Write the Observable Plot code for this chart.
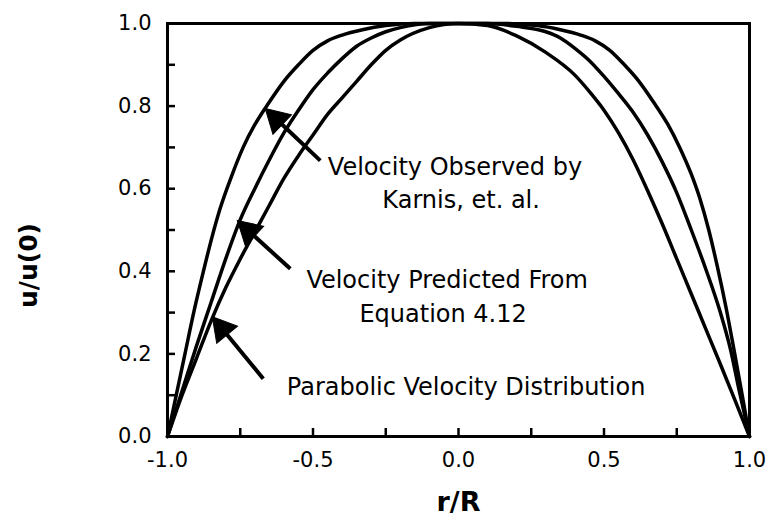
<!DOCTYPE html>
<html><head><meta charset="utf-8">
<script src="https://cdn.jsdelivr.net/npm/d3@7"></script>
<script src="https://cdn.jsdelivr.net/npm/@observablehq/plot@0.6"></script>
<style>body{margin:0;background:#fff}svg{display:block}</style>
</head><body><div id="chart"></div>
<script>
// Velocity observed by Karnis et al. (outer curve)
const karnisR = [-1, -0.97, -0.94, -0.91, -0.88, -0.85, -0.82, -0.78, -0.74, -0.70, -0.65, -0.60, -0.55, -0.50, -0.45, -0.40, -0.33, -0.25, -0.15, 0, 0.15, 0.27, 0.35, 0.42, 0.47, 0.52, 0.57, 0.62, 0.67, 0.72, 0.76, 0.80, 0.83, 0.86, 0.89, 0.92, 0.948, 0.975, 1];
const karnisU = [0, 0.10, 0.20, 0.30, 0.39, 0.475, 0.55, 0.63, 0.70, 0.755, 0.81, 0.86, 0.90, 0.935, 0.958, 0.972, 0.985, 0.995, 1.0, 1.0, 1.0, 0.995, 0.985, 0.972, 0.958, 0.935, 0.90, 0.86, 0.81, 0.755, 0.70, 0.635, 0.575, 0.50, 0.41, 0.31, 0.205, 0.10, 0];
// Velocity predicted from Equation 4.12 (middle curve)
const predR = [-1, -0.95, -0.90, -0.85, -0.80, -0.75, -0.70, -0.65, -0.60, -0.55, -0.50, -0.45, -0.40, -0.35, -0.30, -0.25, -0.20, -0.10, 0, 0.10, 0.20, 0.30, 0.35, 0.40, 0.45, 0.50, 0.55, 0.60, 0.65, 0.70, 0.75, 0.80, 0.85, 0.90, 0.935, 0.965, 1];
const predU = [0, 0.11, 0.22, 0.325, 0.43, 0.525, 0.60, 0.67, 0.735, 0.79, 0.84, 0.88, 0.915, 0.945, 0.965, 0.98, 0.99, 1.0, 1.0, 1.0, 0.993, 0.98, 0.965, 0.94, 0.91, 0.872, 0.83, 0.785, 0.73, 0.665, 0.59, 0.50, 0.405, 0.30, 0.21, 0.11, 0];
// Parabolic velocity distribution (inner curve)
const paraR = [-1, -0.95, -0.90, -0.85, -0.80, -0.75, -0.70, -0.65, -0.60, -0.55, -0.50, -0.45, -0.40, -0.35, -0.30, -0.25, -0.20, -0.10, 0, 0.10, 0.20, 0.30, 0.40, 0.45, 0.50, 0.55, 0.60, 0.65, 0.70, 0.75, 0.80, 0.85, 0.90, 0.95, 1];
const paraU = [0, 0.10, 0.19, 0.28, 0.36, 0.43, 0.495, 0.56, 0.625, 0.68, 0.73, 0.78, 0.82, 0.86, 0.90, 0.935, 0.96, 0.99, 1.0, 0.995, 0.97, 0.93, 0.875, 0.835, 0.79, 0.735, 0.67, 0.595, 0.515, 0.43, 0.345, 0.26, 0.175, 0.088, 0];

// Annotations
const labelText = ["Velocity Observed by", "Karnis, et. al.", "Velocity Predicted From", "Equation 4.12", "Parabolic Velocity Distribution"];
const labelR = [-0.012, 0.009, -0.039, -0.053, 0.026];
const labelU = [0.651, 0.571, 0.377, 0.295, 0.118];
const arrowTipR = [-0.664, -0.76, -0.846];
const arrowTipU = [0.794, 0.523, 0.29];
const arrowTailR = [-0.475, -0.578, -0.671];
const arrowTailU = [0.668, 0.406, 0.14];

// Ticks
const yLabelTicks = [0, 0.2, 0.4, 0.6, 0.8, 1.0];
const yMinorTicks = [0.1, 0.2, 0.3, 0.4, 0.5, 0.6, 0.7, 0.8, 0.9];
const xLabelTicks = [-1, -0.5, 0, 0.5, 1];
const xMinorTicks = [-0.75, -0.5, -0.25, 0, 0.25, 0.5, 0.75];

const W = 770, H = 529, mL = 167, mR = 21, mT = 23, mB = 93;
const kx = (W - mL - mR) / 2, ky = (H - mT - mB);

const series = [
  {name: "karnis", r: karnisR, u: karnisU},
  {name: "pred", r: predR, u: predU},
  {name: "para", r: paraR, u: paraU}
];
const curveData = series.flatMap(s => s.r.map((r, i) => ({series: s.name, r, u: s.u[i]})));

const headR = 10;
const headOff = 2 * Math.sqrt(headR * headR * Math.PI / (3 * Math.sqrt(3)));
const arrows = arrowTipR.map((tr, i) => {
  const dxp = (tr - arrowTailR[i]) * kx;
  const dyp = -(arrowTipU[i] - arrowTailU[i]) * ky;
  const len = Math.hypot(dxp, dyp);
  const ux = dxp / len, uy = dyp / len;
  return {
    tailR: arrowTailR[i], tailU: arrowTailU[i],
    cR: tr - ux * headOff / kx,
    cU: arrowTipU[i] + uy * headOff / ky,
    rot: Math.atan2(ux, -uy) * 180 / Math.PI
  };
});
const labels = labelText.map((t, i) => ({t, r: labelR[i], u: labelU[i]}));

const chart = Plot.plot({
  width: W, height: H,
  marginLeft: mL, marginRight: mR, marginTop: mT, marginBottom: mB,
  style: {fontFamily: "DejaVu Sans", background: "#fff", color: "#000"},
  x: {domain: [-1, 1]},
  y: {domain: [0, 1]},
  marks: [
    Plot.axisY(yMinorTicks, {tickSize: -8, strokeWidth: 2.5, text: null, label: null}),
    Plot.axisY(yLabelTicks, {tickSize: 0, tickPadding: 16, tickFormat: d => d.toFixed(1), fontSize: 21, label: null}),
    Plot.axisX(xMinorTicks, {tickSize: -8, strokeWidth: 2.5, text: null, label: null}),
    Plot.axisX(xLabelTicks, {tickSize: 0, tickPadding: 16, tickFormat: d => d.toFixed(1), fontSize: 21, label: null}),
    Plot.frame({stroke: "#000", strokeWidth: 3}),
    Plot.line(curveData, {x: "r", y: "u", z: "series", stroke: "#000", strokeWidth: 3.5, curve: "monotone-x"}),
    Plot.link(arrows, {x1: "tailR", y1: "tailU", x2: "cR", y2: "cU", stroke: "#000", strokeWidth: 4}),
    Plot.dot(arrows, {x: "cR", y: "cU", symbol: "triangle", r: headR, fill: "#000", stroke: "#000", strokeWidth: 1, rotate: "rot"}),
    Plot.text(labels, {x: "r", y: "u", text: "t", fontSize: 24, fill: "#000", textAnchor: "middle"}),
    Plot.text(["u/u(0)"], {x: -1, y: 0.414, text: d => d, rotate: -90, dx: -139, fontSize: 25, fontWeight: "bold", fill: "#000"}),
    Plot.text(["r/R"], {x: 0, frameAnchor: "bottom", text: d => d, dy: 74, fontSize: 27, fontWeight: "bold", fill: "#000"})
  ]
});
document.getElementById("chart").appendChild(chart);
</script>
</body></html>
